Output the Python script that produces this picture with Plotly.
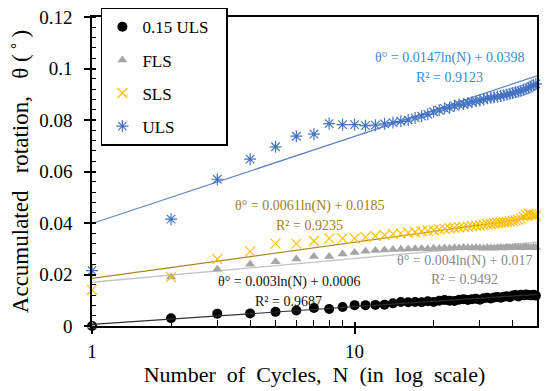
import math
import plotly.graph_objects as go

cycles = list(range(1, 51))

uls015 = [0.0, 0.0030, 0.0048, 0.0049, 0.0055, 0.0060, 0.0070, 0.0066, 0.0074, 0.0081,
          0.0081, 0.0082, 0.0083, 0.0088, 0.0093, 0.0092, 0.0093, 0.0092, 0.0096, 0.0093,
          0.0098, 0.0101, 0.0098, 0.0097, 0.0102, 0.0104, 0.0101, 0.0104, 0.0106, 0.0102,
          0.0108, 0.0110, 0.0107, 0.0111, 0.0113, 0.0110, 0.0114, 0.0116, 0.0112, 0.0118,
          0.0120, 0.0115, 0.0121, 0.0119, 0.0122, 0.0120, 0.0119, 0.0121, 0.0118, 0.0113]

fls = [0.0, 0.019, 0.022, 0.024, 0.025, 0.026, 0.027, 0.027, 0.028, 0.0285,
       0.029, 0.0293, 0.0295, 0.0297, 0.0298, 0.0299, 0.0300, 0.0301, 0.0300, 0.0302,
       0.0301, 0.0303, 0.0302, 0.0304, 0.0303, 0.0305, 0.0304, 0.0303, 0.0305, 0.0303,
       0.0302, 0.0304, 0.0303, 0.0302, 0.0304, 0.0305, 0.0303, 0.0306, 0.0304, 0.0305,
       0.0307, 0.0305, 0.0304, 0.0306, 0.0308, 0.0305, 0.0304, 0.0306, 0.0305, 0.0303]

sls = [0.014, 0.019, 0.026, 0.029, 0.032, 0.032, 0.033, 0.034, 0.034, 0.034,
       0.0345, 0.035, 0.0353, 0.0358, 0.036, 0.0362, 0.0365, 0.0368, 0.037, 0.0372,
       0.0375, 0.0377, 0.038, 0.0381, 0.0383, 0.0385, 0.0386, 0.0388, 0.039, 0.0391,
       0.0393, 0.0395, 0.0396, 0.0398, 0.040, 0.0401, 0.0403, 0.0404, 0.0406, 0.0408,
       0.041, 0.0413, 0.0418, 0.0425, 0.0432, 0.0436, 0.0433, 0.043, 0.0428, 0.0425]

uls = [0.0215, 0.0415, 0.057, 0.0648, 0.0696, 0.0737, 0.0745, 0.0786, 0.0782, 0.0782,
       0.0778, 0.078, 0.0785, 0.079, 0.0795, 0.080, 0.0808, 0.0815, 0.0822, 0.0832,
       0.0838, 0.0845, 0.0848, 0.0855, 0.086, 0.0862, 0.0866, 0.087, 0.0873, 0.0876,
       0.088, 0.0884, 0.0886, 0.0888, 0.089, 0.0893, 0.0896, 0.0899, 0.0902, 0.0905,
       0.0908, 0.091, 0.0913, 0.0917, 0.092, 0.0925, 0.093, 0.0935, 0.094, 0.0945]

# trendline coefficients (theta = a*ln(N) + b), as printed on the chart
fit_a = {"0.15 ULS": 0.003, "FLS": 0.004, "SLS": 0.0061, "ULS": 0.0147}
fit_b = {"0.15 ULS": 0.0006, "FLS": 0.017, "SLS": 0.0185, "ULS": 0.0398}
fit_r2 = {"0.15 ULS": "0.9687", "FLS": "0.9492", "SLS": "0.9235", "ULS": "0.9123"}

y_ticks = [0, 0.02, 0.04, 0.06, 0.08, 0.1, 0.12]
y_tick_text = ["0", "0.02", "0.04", "0.06", "0.08", "0.1", "0.12"]
x_ticks = [1, 10]
x_tick_text = ["1", "10"]
x_minor = [2, 3, 4, 5, 6, 7, 8, 9, 20, 30, 40]

FONT = "Liberation Serif"
fit_x = [1, 49.5]
NB = "\u00a0"

fig = go.Figure()

def trend(name, color, width):
    fig.add_trace(go.Scatter(
        x=fit_x, y=[fit_a[name] * math.log(n) + fit_b[name] for n in fit_x],
        mode="lines", line=dict(color=color, width=width),
        showlegend=False, hoverinfo="skip", cliponaxis=True))

trend("FLS", "#c3c3c3", 1.3)
trend("SLS", "#a8861c", 1.2)
trend("ULS", "#5a86c0", 1.2)

fig.add_trace(go.Scatter(x=cycles, y=uls015, name="0.15 ULS" + NB * 3, mode="markers",
                         legendgroup="a",
                         marker=dict(symbol="circle", size=10, color="black"),
                         cliponaxis=False))
fig.add_trace(go.Scatter(x=cycles, y=fls, name="FLS", mode="markers",
                         legendgroup="b",
                         marker=dict(symbol="triangle-up", size=9, color="#a5a5a5"),
                         cliponaxis=False))
fig.add_trace(go.Scatter(x=cycles, y=sls, name="SLS", mode="markers",
                         legendgroup="c",
                         marker=dict(symbol="x-thin-open", size=10,
                                     line=dict(color="#ffc000", width=1.2), color="#ffc000"),
                         cliponaxis=False))
fig.add_trace(go.Scatter(x=cycles, y=uls, name="ULS", mode="markers",
                         legendgroup="d",
                         marker=dict(symbol="asterisk-open", size=10,
                                     line=dict(color="#4472c4", width=1.2), color="#4472c4"),
                         cliponaxis=False))

trend("0.15 ULS", "#303030", 1.2)

def eq_text(name):
    a = fit_a[name]
    b = fit_b[name]
    return f"θ° = {a:g}ln(N) + {b:g}"

ann = [
    ("ULS", 1.36, 0.1041, 0.0967, "#3a8ad2"),
    ("SLS", 0.83, 0.0466, 0.0392, "#a0801a"),
    ("FLS", 1.419, 0.0254, 0.0179, "#8a8a8a"),
    ("0.15 ULS", 0.749, 0.0172, 0.0097, "#111111"),
]
for name, xl, ye, yr, col in ann:
    fig.add_annotation(x=xl, y=ye, xref="x", yref="y", text=eq_text(name),
                       showarrow=False, font=dict(family=FONT, size=14, color=col))
    fig.add_annotation(x=xl, y=yr, xref="x", yref="y", text="R² = " + fit_r2[name],
                       showarrow=False, font=dict(family=FONT, size=14, color=col))

SP = NB + NB
x_title = SP.join(["Number", "of", "Cycles,", "N", "(in", "log", "scale)"])
y_title = "Accumulated" + NB * 3 + "rotation," + NB * 3 + "θ" + NB + "(" + "\u2009˚\u2009" + ")"

# the page body adds an 8px offset, so the figure is 8px smaller each way
fig.update_layout(
    width=542, height=383,
    margin=dict(l=84, r=13, t=9, b=65, autoexpand=False),
    paper_bgcolor="white", plot_bgcolor="white",
    font=dict(family=FONT, color="black"),
    showlegend=True,
    legend=dict(x=0.02, y=1.03, xanchor="left", yanchor="top",
                bordercolor="black", borderwidth=1.5, bgcolor="white",
                font=dict(family=FONT, size=17, color="black"),
                tracegroupgap=8, traceorder="grouped", itemwidth=30),
    xaxis=dict(type="log", range=[0, math.log10(49.5)],
               tickvals=x_ticks, ticktext=x_tick_text,
               ticks="outside", ticklen=6, tickwidth=1.5, tickcolor="black",
               ticklabelstandoff=1, ticklabeloverflow="allow",
               showline=True, linecolor="black", linewidth=1.5, mirror=True,
               showgrid=False, zeroline=False,
               tickfont=dict(family=FONT, size=19, color="black"),
               minor=dict(tickmode="array", tickvals=x_minor, ticks="inside",
                          ticklen=6, tickwidth=1, tickcolor="black", showgrid=False),
               title=dict(text=x_title,
                          font=dict(family=FONT, size=22, color="black"), standoff=3)),
    yaxis=dict(range=[0, 0.12], tickvals=y_ticks, ticktext=y_tick_text,
               ticks="outside", ticklen=6, tickwidth=1.5, tickcolor="black",
               ticklabelstandoff=8, ticklabeloverflow="allow",
               showline=True, linecolor="black", linewidth=1.5, mirror=True,
               showgrid=False, zeroline=False,
               tickfont=dict(family=FONT, size=19, color="black"),
               minor=dict(dtick=0.004, tick0=0, ticks="inside", ticklen=4,
                          tickwidth=1, tickcolor="black", showgrid=False),
               title=dict(text=y_title,
                          font=dict(family=FONT, size=23, color="black"), standoff=7)),
    xaxis2=dict(type="log", range=[0, math.log10(49.5)], overlaying="x", anchor="y",
                tickvals=x_ticks, ticks="inside", ticklen=4, tickwidth=1.5,
                tickcolor="black", showticklabels=False, showline=False,
                showgrid=False, zeroline=False),
    yaxis2=dict(range=[0, 0.12], overlaying="y", anchor="x",
                tickvals=y_ticks, ticks="inside", ticklen=4, tickwidth=1.5,
                tickcolor="black", showticklabels=False, showline=False,
                showgrid=False, zeroline=False),
)
# invisible trace to activate the overlay axes (crossing major ticks)
fig.add_trace(go.Scatter(x=[1], y=[0], xaxis="x2", yaxis="y2", mode="markers",
                         marker=dict(opacity=0), showlegend=False, hoverinfo="skip"))

fig.write_html("out.html")
